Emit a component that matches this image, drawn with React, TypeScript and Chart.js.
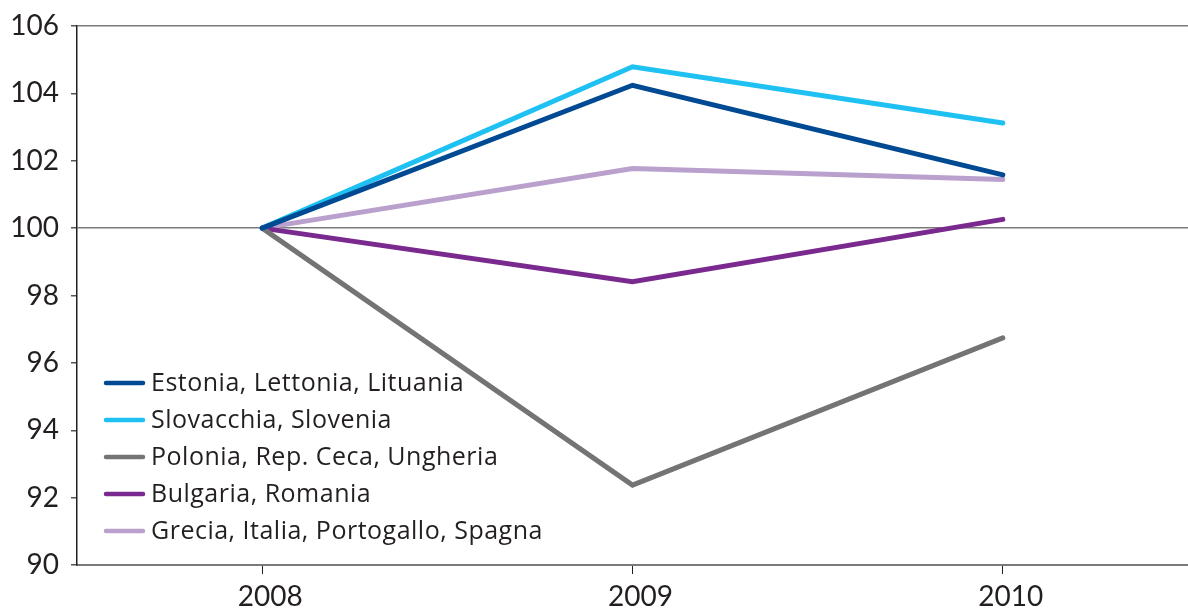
import React, { useEffect, useRef } from "react";
import { Chart, registerables } from "chart.js";

Chart.register(...registerables);

const categories = ["2008", "2009", "2010"];
const seriesLabels = [
  "Estonia, Lettonia, Lituania",
  "Slovacchia, Slovenia",
  "Polonia, Rep. Ceca, Ungheria",
  "Bulgaria, Romania",
  "Grecia, Italia, Portogallo, Spagna",
];
const estonia = [100, 104.24, 101.58];
const slovacchia = [100, 104.79, 103.12];
const polonia = [100, 92.37, 96.74];
const bulgaria = [100, 98.41, 100.26];
const grecia = [100, 101.77, 101.44];
const seriesColors = ["#004a93", "#1ec1f1", "#747474", "#7a2a8e", "#baa0cc"];
const yTicks = [90, 92, 94, 96, 98, 100, 102, 104, 106];

const FONT = "Lato, 'Open Sans', sans-serif";
const LEGEND_FONT = "'Open Sans', Lato, sans-serif";
const TEXT = "#231f20";

const legendPlugin = {
  id: "insideLegend",
  afterDatasetsDraw(chart: any) {
    const ctx = chart.ctx;
    const area = chart.chartArea;
    const ds = chart.data.datasets;
    ctx.save();
    ctx.font = `25px ${LEGEND_FONT}`;
    try {
      (ctx as any).letterSpacing = "0.5px";
    } catch (e) {}
    ctx.textBaseline = "middle";
    ctx.textAlign = "left";
    const rowH = 37;
    const lastY = area.bottom - 34;
    ds.forEach((d: any, i: number) => {
      const y = lastY - (ds.length - 1 - i) * rowH;
      const x0 = area.left + 29;
      ctx.strokeStyle = d.borderColor;
      ctx.lineWidth = 4.5;
      ctx.lineCap = "round";
      ctx.beginPath();
      ctx.moveTo(x0, y);
      ctx.lineTo(x0 + 37, y);
      ctx.stroke();
      ctx.fillStyle = TEXT;
      ctx.fillText(d.label, x0 + 45, y + 1);
    });
    ctx.restore();
  },
};

export default function App() {
  const ref = useRef<HTMLCanvasElement | null>(null);
  useEffect(() => {
    if (!ref.current) return;
    const values = [estonia, slovacchia, polonia, bulgaria, grecia];
    const chart = new Chart(ref.current, {
      type: "line",
      data: {
        labels: categories,
        datasets: values.map((v, i) => ({
          label: seriesLabels[i],
          data: v,
          borderColor: seriesColors[i],
          backgroundColor: seriesColors[i],
          borderWidth: 5,
          pointRadius: 0,
          borderCapStyle: "round",
          borderJoinStyle: "miter",
          tension: 0,
          fill: false,
        })),
      },
      options: {
        animation: false,
        responsive: false,
        maintainAspectRatio: false,
        layout: { padding: { top: 25, right: 0, left: 0, bottom: 0 } },
        plugins: {
          legend: { display: false },
          tooltip: { enabled: false },
        },
        scales: {
          x: {
            offset: true,
            grid: {
              offset: false,
              drawOnChartArea: false,
              drawTicks: true,
              tickLength: 9,
              tickColor: TEXT,
              tickWidth: 1,
            },
            border: { display: true, color: "#7a7a7a", width: 2 },
            ticks: {
              color: TEXT,
              font: { family: FONT, size: 28 },
              padding: 6,
              maxRotation: 0,
              labelOffset: 8,
            },
            afterFit(scale: any) {
              scale.height = 45;
            },
          },
          y: {
            min: 90,
            max: 106,
            afterBuildTicks(scale: any) {
              scale.ticks = yTicks.map((v) => ({ value: v }));
            },
            grid: {
              drawTicks: true,
              tickLength: 6,
              tickColor: "#555555",
              color: (c: any) =>
                c.tick && (c.tick.value === 100 || c.tick.value === 106)
                  ? "#7a7a7a"
                  : "rgba(0,0,0,0)",
              lineWidth: 1.5,
            },
            border: { display: true, color: TEXT, width: 1.5 },
            ticks: {
              color: TEXT,
              font: { family: FONT, size: 28, lineHeight: 1 },
              padding: 12,
            },
            afterFit(scale: any) {
              scale.width = 77;
            },
          },
        },
      },
      plugins: [legendPlugin],
    });
    return () => chart.destroy();
  }, []);
  return (
    <div style={{ position: "absolute", left: 0, top: 0, width: 1188, height: 610, background: "#fff" }}>
      <canvas ref={ref} width={1188} height={610} style={{ display: "block" }} />
    </div>
  );
}
